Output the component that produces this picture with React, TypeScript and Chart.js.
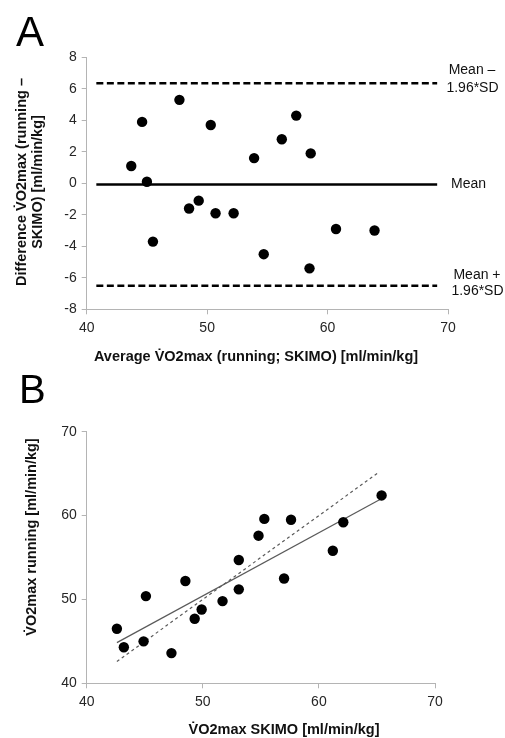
import React, { useEffect, useRef } from "react";
import { Chart, registerables } from "chart.js";

Chart.register(...registerables);

// ---- Panel A: Bland-Altman ----
const avgVO2 = [43.7, 44.6, 45.0, 45.5, 47.7, 48.5, 49.3, 50.3, 50.7, 52.2, 53.9, 54.7, 56.2, 57.4, 58.5, 58.6, 60.7, 63.9];
const diffVO2 = [1.1, 3.9, 0.1, -3.7, 5.3, -1.6, -1.1, 3.7, -1.9, -1.9, 1.6, -4.5, 2.8, 4.3, -5.4, 1.9, -2.9, -3.0];
const limitX = [40.8, 69.1];
const meanDiff = -0.08;
const upperLoA = 6.35;
const lowerLoA = -6.5;
const aYTicks = [-8, 8, 2];
const aXTicks = [40, 70, 10];

// ---- Panel B: correlation ----
const skimoVO2 = [42.6, 43.2, 44.9, 45.1, 47.3, 48.5, 49.3, 49.9, 51.7, 53.1, 53.1, 54.8, 55.3, 57.0, 57.6, 61.2, 62.1, 65.4];
const runningVO2 = [46.5, 44.3, 45.0, 50.4, 43.6, 52.2, 47.7, 48.8, 49.8, 54.7, 51.2, 57.6, 59.6, 52.5, 59.5, 55.8, 59.2, 62.4];
const regX = [42.6, 65.3];
const regY = [44.85, 61.95];
const identityX = [42.6, 65.2];
const bTicks = [40, 70, 10];

const FONT = "'Liberation Sans', Arial, sans-serif";
const AXIS = "#b4b4b4";
const TICK_TXT = "#262626";

function axisOpts(range: number[], fitKey: "width" | "height", fitVal: number) {
  return {
    type: "linear" as const,
    min: range[0],
    max: range[1],
    ticks: { stepSize: range[2], font: { family: FONT, size: 14 }, color: TICK_TXT, padding: 5 },
    grid: { drawOnChartArea: false, drawTicks: true, tickLength: 5, color: AXIS, lineWidth: 1 },
    border: { display: true, color: AXIS, width: 1 },
    afterFit: (s: any) => {
      s[fitKey] = fitVal;
    },
  };
}

function textPlugin(draw: (ctx: CanvasRenderingContext2D, chart: any) => void) {
  return {
    id: "texts",
    afterDraw(chart: any) {
      const ctx = chart.ctx as CanvasRenderingContext2D;
      ctx.save();
      draw(ctx, chart);
      ctx.restore();
    },
  };
}

function rotText(ctx: CanvasRenderingContext2D, text: string, x: number, y: number) {
  ctx.save();
  ctx.translate(x, y);
  ctx.rotate(-Math.PI / 2);
  ctx.textAlign = "center";
  ctx.textBaseline = "middle";
  ctx.fillText(text, 0, 0);
  ctx.restore();
}

function ChartA() {
  const ref = useRef<HTMLCanvasElement>(null);
  useEffect(() => {
    const pts = avgVO2.map((x, i) => ({ x, y: diffVO2[i] }));
    const hline = (v: number) => limitX.map((x) => ({ x, y: v }));
    const chart = new Chart(ref.current!, {
      type: "scatter",
      data: {
        datasets: [
          { data: pts, backgroundColor: "#000", borderWidth: 0, pointRadius: 5.2, order: 0 },
          { data: hline(meanDiff), showLine: true, borderColor: "#000", borderWidth: 2.6, pointRadius: 0, order: 1 },
          { data: hline(upperLoA), showLine: true, borderColor: "#000", borderWidth: 2.6, borderDash: [7, 3.5], pointRadius: 0, order: 1 },
          { data: hline(lowerLoA), showLine: true, borderColor: "#000", borderWidth: 2.6, borderDash: [7, 3.5], pointRadius: 0, order: 1 },
        ],
      },
      options: {
        responsive: false,
        animation: false,
        layout: { padding: { left: 0, top: 57.3, right: 57, bottom: 0 } },
        plugins: { legend: { display: false }, tooltip: { enabled: false } },
        scales: {
          x: axisOpts(aXTicks, "height", 55.7),
          y: axisOpts(aYTicks, "width", 86.7),
        },
      },
      plugins: [
        textPlugin((ctx, ch) => {
          ctx.fillStyle = "#000";
          ctx.font = `42px ${FONT}`;
          ctx.textAlign = "left";
          ctx.textBaseline = "alphabetic";
          ctx.fillText("A", 16, 46);

          ctx.font = `bold 14.5px ${FONT}`;
          ctx.fillStyle = "#111";
          rotText(ctx, "Difference V\u0307O2max (running \u2013", 22, 182);
          rotText(ctx, "SKIMO) [ml/min/kg]", 37.5, 182);
          ctx.textAlign = "center";
          ctx.textBaseline = "middle";
          ctx.fillText("Average V\u0307O2max (running; SKIMO) [ml/min/kg]", 256, 357);

          const ys = ch.scales.y;
          ctx.font = `14px ${FONT}`;
          ctx.fillStyle = "#111";
          const yu = ys.getPixelForValue(upperLoA);
          const ym = ys.getPixelForValue(meanDiff);
          const yl = ys.getPixelForValue(lowerLoA);
          ctx.textAlign = "center";
          ctx.fillText("Mean \u2013", 472, yu - 13);
          ctx.fillText("1.96*SD", 472.5, yu + 4.6);
          ctx.fillText("Mean +", 477, yl - 11);
          ctx.fillText("1.96*SD", 477.5, yl + 5.5);
          ctx.textAlign = "left";
          ctx.fillText("Mean", 451, ym);
        }),
      ],
    } as any);
    return () => chart.destroy();
  }, []);
  return <canvas ref={ref} width={505} height={365} style={{ position: "absolute", left: 0, top: 0, width: 505, height: 365 }} />;
}

function ChartB() {
  const ref = useRef<HTMLCanvasElement>(null);
  useEffect(() => {
    const pts = skimoVO2.map((x, i) => ({ x, y: runningVO2[i] }));
    const chart = new Chart(ref.current!, {
      type: "scatter",
      data: {
        datasets: [
          { data: pts, backgroundColor: "#000", borderWidth: 0, pointRadius: 5.2, order: 0 },
          { data: regX.map((x, i) => ({ x, y: regY[i] })), showLine: true, borderColor: "#5a5a5a", borderWidth: 1.2, pointRadius: 0, order: 1 },
          { data: identityX.map((x) => ({ x, y: x })), showLine: true, borderColor: "#5a5a5a", borderWidth: 1.2, borderDash: [3, 3], pointRadius: 0, order: 1 },
        ],
      },
      options: {
        responsive: false,
        animation: false,
        layout: { padding: { left: 0, top: 66.7, right: 70, bottom: 0 } },
        plugins: { legend: { display: false }, tooltip: { enabled: false } },
        scales: {
          x: axisOpts(bTicks, "height", 54.7),
          y: axisOpts(bTicks, "width", 86.7),
        },
      },
      plugins: [
        textPlugin((ctx) => {
          ctx.fillStyle = "#000";
          ctx.font = `40px ${FONT}`;
          ctx.textAlign = "left";
          ctx.textBaseline = "alphabetic";
          ctx.fillText("B", 19, 38);

          ctx.font = `bold 14.5px ${FONT}`;
          ctx.fillStyle = "#111";
          rotText(ctx, "V\u0307O2max running [ml/min/kg]", 32, 172);
          ctx.textAlign = "center";
          ctx.textBaseline = "middle";
          ctx.fillText("V\u0307O2max SKIMO [ml/min/kg]", 284, 365);
        }),
      ],
    } as any);
    return () => chart.destroy();
  }, []);
  return <canvas ref={ref} width={505} height={373} style={{ position: "absolute", left: 0, top: 365, width: 505, height: 373 }} />;
}

export default function App() {
  return (
    <div style={{ position: "absolute", left: 0, top: 0, width: 505, height: 738, background: "#fff" }}>
      <ChartA />
      <ChartB />
    </div>
  );
}
